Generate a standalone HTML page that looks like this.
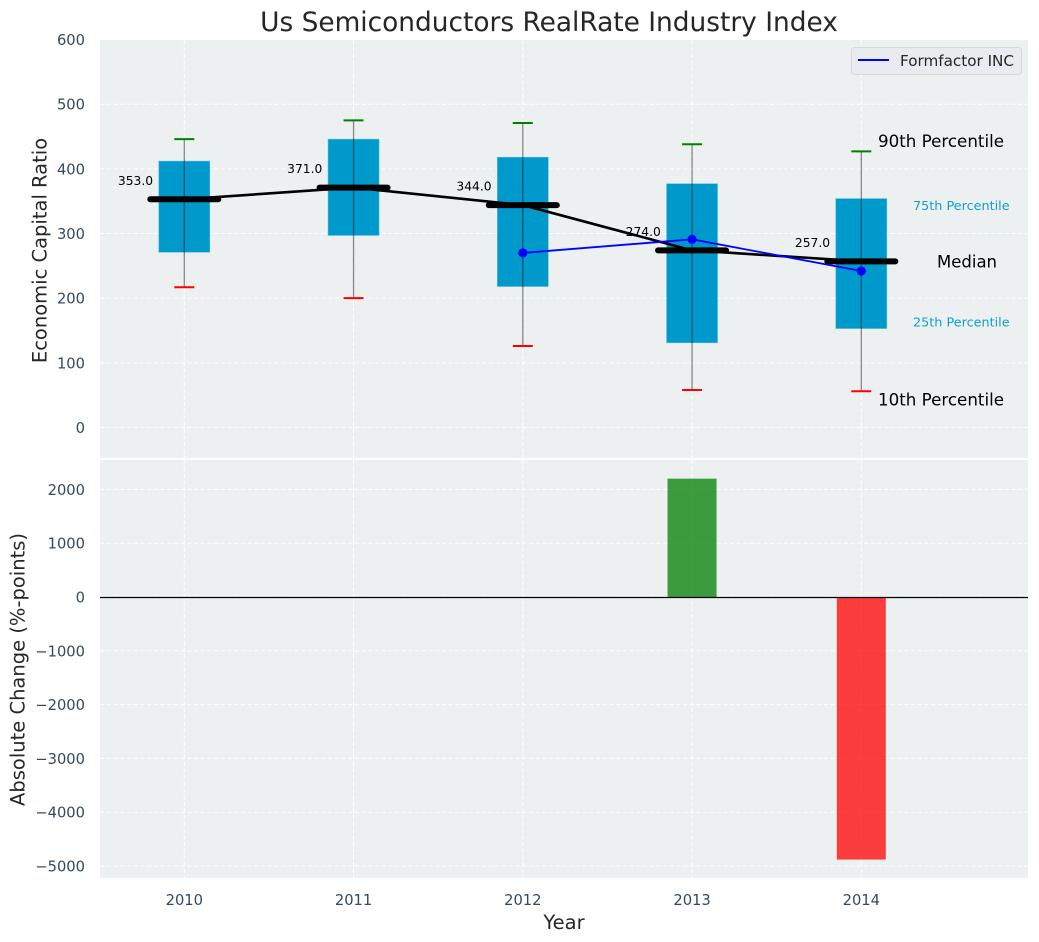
<!DOCTYPE html>
<html lang="en">
<head>
<meta charset="utf-8">
<title>Us Semiconductors RealRate Industry Index</title>
<style>
html,body{margin:0;padding:0;background:#fff;width:1039px;height:942px;overflow:hidden}
svg{display:block;font-family:"DejaVu Sans","Liberation Sans",sans-serif}
</style>
</head>
<body>
<svg id="chart" xmlns="http://www.w3.org/2000/svg" width="1039" height="942" viewBox="0 0 1039 942">
  <rect x="100" y="40" width="928" height="418" fill="#ecf0f1"/>
  <rect x="100" y="460" width="928" height="418" fill="#ecf0f1"/>
  <g id="grid"></g>
  <g id="marks"></g>
  <g id="ticks"></g>
  <text x="549" y="31" font-size="26.4" fill="#262626" text-anchor="middle">Us Semiconductors RealRate Industry Index</text>
  <text transform="translate(46.5,250.5) rotate(-90)" font-size="19.5" fill="#262626" text-anchor="middle">Economic Capital Ratio</text>
  <text transform="translate(24.5,669.5) rotate(-90)" font-size="19.5" fill="#262626" text-anchor="middle">Absolute Change (%-points)</text>
  <text x="564" y="929" font-size="19.5" fill="#262626" text-anchor="middle">Year</text>
  <g>
    <rect x="851.5" y="47.5" width="170" height="27" rx="3" fill="#e9ebf0" stroke="#d6d9dc"/>
    <line x1="858" x2="889" y1="60" y2="60" stroke="#0000ff" stroke-width="2"/>
    <text x="900" y="66" font-size="15.2" fill="#262626">Formfactor INC</text>
  </g>
</svg>
<script>
var years = [2010, 2011, 2012, 2013, 2014];
var p10 = [217, 200, 126, 58, 56];
var p25 = [271, 297, 218, 131, 153];
var median = [353, 371, 344, 274, 257];
var p75 = [412, 446, 418, 377, 354];
var p90 = [446, 475, 471, 438, 427];
var companyYears = [2012, 2013, 2014];
var companyValues = [270, 291, 242];
var changeYears = [2013, 2014];
var changeValues = [2200, -4880];
var topTicks = [0, 100, 200, 300, 400, 500, 600];
var bottomTicks = [-5000, -4000, -3000, -2000, -1000, 0, 1000, 2000];

var NS = 'http://www.w3.org/2000/svg';
function xPos(v) { return 184.3 + (v - 2010) * 169.25; }
function yTop(v) { return 427.5 - v * 0.6466; }
function yBot(v) { return 597 - v * 0.0538; }
function add(parent, tag, attrs, txt) {
  var el = document.createElementNS(NS, tag);
  for (var k in attrs) el.setAttribute(k, attrs[k]);
  if (txt !== undefined) el.textContent = txt;
  parent.appendChild(el);
  return el;
}
var grid = document.getElementById('grid');
var marks = document.getElementById('marks');
var ticks = document.getElementById('ticks');
var dash = '4.5 2.2';
var tickColor = '#34495e';

topTicks.forEach(function (t) {
  var y = yTop(t);
  var g = add(grid, 'line', {x1: 100, x2: 1028, y1: y, y2: y, stroke: '#fff', 'stroke-width': 1, 'stroke-dasharray': dash});
  
  
  var l = add(ticks, 'text', {x: 85, y: y + 5.5, 'font-size': 14.7, fill: tickColor, 'text-anchor': 'end'}, String(t));
  
  
});
bottomTicks.forEach(function (t) {
  var y = yBot(t);
  var g = add(grid, 'line', {x1: 100, x2: 1028, y1: y, y2: y, stroke: '#fff', 'stroke-width': 1, 'stroke-dasharray': dash});
  
  
  var l = add(ticks, 'text', {x: 85, y: y + 5.5, 'font-size': 14.7, fill: tickColor, 'text-anchor': 'end'}, String(t).replace('-', '\u2212'));
  
  
});
years.forEach(function (yr) {
  var x = xPos(yr);
  var g1 = add(grid, 'line', {x1: x, x2: x, y1: 40, y2: 458, stroke: '#fff', 'stroke-width': 1, 'stroke-dasharray': dash});
  
  
  var g2 = add(grid, 'line', {x1: x, x2: x, y1: 460, y2: 878, stroke: '#fff', 'stroke-width': 1, 'stroke-dasharray': dash});
  
  
  var l = add(ticks, 'text', {x: x, y: 905, 'font-size': 14.7, fill: tickColor, 'text-anchor': 'middle'}, String(yr));
  
  
});

years.forEach(function (yr, i) {
  var x = xPos(yr);
  var box = add(marks, 'rect', {x: x - 25.5, y: yTop(p75[i]), width: 51, height: yTop(p25[i]) - yTop(p75[i]), fill: '#0099cc', stroke: '#5fbcdc', 'stroke-width': 0.6});
  
  
  var wh = add(marks, 'line', {x1: x, x2: x, y1: yTop(p90[i]), y2: yTop(p10[i]), stroke: '#000', 'stroke-opacity': 0.45, 'stroke-width': 1.3});
  
  
  var hi = add(marks, 'line', {x1: x - 10, x2: x + 10, y1: yTop(p90[i]), y2: yTop(p90[i]), stroke: '#008000', 'stroke-width': 2});
  
  
  var lo = add(marks, 'line', {x1: x - 10, x2: x + 10, y1: yTop(p10[i]), y2: yTop(p10[i]), stroke: '#ff0000', 'stroke-width': 2});
  
  
});

var medianPts = years.map(function (yr, i) { return xPos(yr) + ',' + yTop(median[i]); }).join(' ');
var medLine = add(marks, 'polyline', {points: medianPts, fill: 'none', stroke: '#000', 'stroke-width': 2.6});



years.forEach(function (yr, i) {
  var x = xPos(yr);
  var y = yTop(median[i]);
  var m = add(marks, 'line', {x1: x - 34, x2: x + 34, y1: y, y2: y, stroke: '#000', 'stroke-width': 6, 'stroke-linecap': 'round'});
  
  
  var t = add(marks, 'text', {x: x - 48.8, y: y - 14.5, 'font-size': 12.3, fill: '#000', 'text-anchor': 'middle'}, median[i].toFixed(1));
  
  
});

var companyPts = companyYears.map(function (yr, i) { return xPos(yr) + ',' + yTop(companyValues[i]); }).join(' ');
var coLine = add(marks, 'polyline', {points: companyPts, fill: 'none', stroke: '#0000ff', 'stroke-width': 1.8});


companyYears.forEach(function (yr, i) {
  var c = add(marks, 'circle', {cx: xPos(yr), cy: yTop(companyValues[i]), r: 4.6, fill: '#0000ff'});
  
  
});

var last = years.length - 1;
var lastX = xPos(years[last]);
var a90 = add(marks, 'text', {x: lastX + 16.7, y: yTop(p90[last]) - 4.5, 'font-size': 16.7, fill: '#000'}, '90th Percentile');


var a75 = add(marks, 'text', {x: lastX + 51.7, y: yTop(p75[last]) + 11.5, 'font-size': 12.8, fill: '#0f9fcf'}, '75th Percentile');


var aMed = add(marks, 'text', {x: lastX + 75.7, y: yTop(median[last]) + 6, 'font-size': 16.5, fill: '#000'}, 'Median');


var a25 = add(marks, 'text', {x: lastX + 51.7, y: yTop(p25[last]) - 2.2, 'font-size': 12.8, fill: '#0f9fcf'}, '25th Percentile');


var a10 = add(marks, 'text', {x: lastX + 16.7, y: yTop(p10[last]) + 14, 'font-size': 16.7, fill: '#000'}, '10th Percentile');



changeYears.forEach(function (yr, i) {
  var v = changeValues[i];
  var top = yBot(Math.max(v, 0));
  var bottom = yBot(Math.min(v, 0));
  var b = add(marks, 'rect', {x: xPos(yr) - 24.5, y: top, width: 49, height: bottom - top, fill: v >= 0 ? '#008000' : '#ff0000', 'fill-opacity': 0.75});
  
  
});
var zero = add(marks, 'line', {x1: 100, x2: 1028, y1: yBot(0) + 0.5, y2: yBot(0) + 0.5, stroke: '#000', 'stroke-width': 1.2});


</script>
</body>
</html>
